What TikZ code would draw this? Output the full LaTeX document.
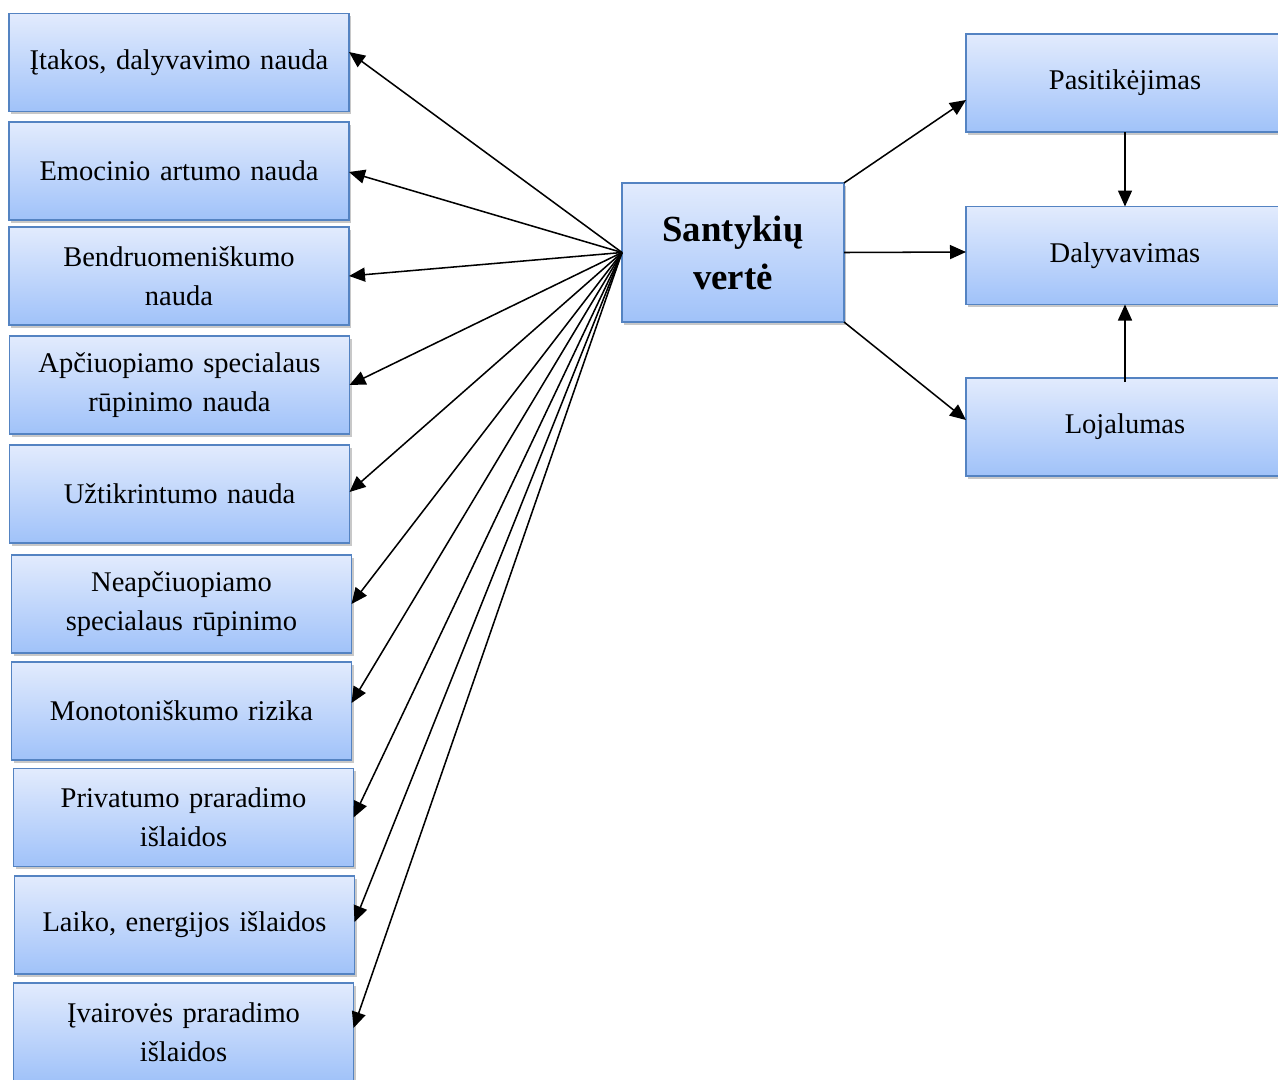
\documentclass[tikz,border=0pt]{standalone}
\usepackage{fontspec}
\setmainfont{Liberation Serif}
\usetikzlibrary{arrows.meta,shadows,calc}
\definecolor{boxtop}{RGB}{226,235,253}
\definecolor{boxbot}{RGB}{160,194,249}
\definecolor{boxline}{RGB}{84,131,194}
\tikzset{
  box/.style={draw=boxline, line width=1pt, top color=boxtop, bottom color=boxbot,
    drop shadow={shadow xshift=1.8pt, shadow yshift=-2.2pt, opacity=0.3, fill=black!70},
    inner sep=0pt, outer sep=0pt, align=center,
    font=\fontsize{21.4}{29}\selectfont},
  leftbox/.style={box, minimum width=255pt, minimum height=73.5pt, text width=245pt},
  rightbox/.style={box, minimum width=238.5pt, minimum height=73.5pt, text width=225pt},
  hubbox/.style={box, minimum width=166.5pt, minimum height=104.25pt, text width=160pt,
    font=\fontsize{27.6}{36}\selectfont\bfseries},
  link/.style={line width=1.15pt, -{Triangle[length=12pt,width=10.5pt]}}
}
\begin{document}
\begin{tikzpicture}[x=0.75pt,y=-0.75pt]
\useasboundingbox (0,0) rectangle (1278,1079);
\clip (0,0) rectangle (1278,1079);
\fill[white] (0,0) rectangle (1278,1079);

% left column
\node[leftbox] (b1) at (179,62.5) {Įtakos, dalyvavimo nauda};
\node[leftbox] (b2) at (179,171) {Emocinio artumo nauda};
\node[leftbox] (b3) at (179,276) {Bendruomeniškumo\\nauda};
\node[leftbox] (b4) at (179.5,385) {Apčiuopiamo specialaus\\rūpinimo nauda};
\node[leftbox] (b5) at (179.5,494) {Užtikrintumo nauda};
\node[leftbox] (b6) at (181.5,604) {Neapčiuopiamo\\specialaus rūpinimo};
\node[leftbox] (b7) at (181.5,711) {Monotoniškumo rizika};
\node[leftbox] (b8) at (183.5,817.5) {Privatumo praradimo\\išlaidos};
\node[leftbox] (b9) at (184.5,925) {Laiko, energijos išlaidos};
\node[leftbox] (b10) at (183.5,1032) {Įvairovės praradimo\\išlaidos};

% hub
\node[hubbox] (c) at (733,252.5) {Santykių\\vertė};

% right column
\node[rightbox] (p) at (1125,83) {Pasitikėjimas};
\node[rightbox] (d) at (1125,255.5) {Dalyvavimas};
\node[rightbox] (l) at (1125,427) {Lojalumas};

% fan of arrows to the left
\draw[link] (c.west) -- ($(b1.east)+(0,-10.5)$);
\draw[link] (c.west) -- ($(b2.east)+(0,1)$);
\draw[link] (c.west) -- (b3.east);
\draw[link] (c.west) -- (b4.east);
\draw[link] (c.west) -- ($(b5.east)+(0,-2)$);
\draw[link] (c.west) -- (b6.east);
\draw[link] (c.west) -- ($(b7.east)+(0,-8)$);
\draw[link] (c.west) -- (b8.east);
\draw[link] (c.west) -- ($(b9.east)+(0,-3)$);
\draw[link] (c.west) -- ($(b10.east)+(0,-4)$);

% arrows to the right
\draw[link] (c.north east) -- ($(p.west)+(0,17)$);
\draw[link] (c.east) -- ($(d.west)+(0,-3.5)$);
\draw[link] (c.south east) -- ($(l.west)+(0,-7)$);
\draw[link] (p.south) -- (d.north);
\draw[link] ($(l.north)+(0,4)$) -- (d.south);
\end{tikzpicture}
\end{document}
